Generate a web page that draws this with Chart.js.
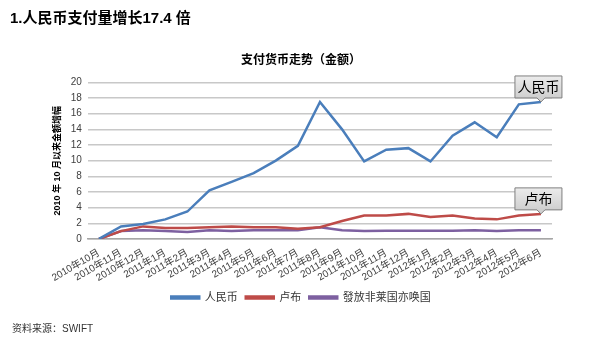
<!DOCTYPE html>
<html>
<head>
<meta charset="utf-8">
<script src="https://cdn.jsdelivr.net/npm/chart.js@4"></script>
<style>
  html, body { margin: 0; padding: 0; background: #fff; }
  #wrap { position: relative; width: 600px; height: 348px; }
  #mainTitle { position: absolute; left: 10px; top: 6px; font: bold 15px "Liberation Sans", "Noto Sans CJK SC", sans-serif; color: #000; }
  #source { position: absolute; left: 12px; top: 320px; font: 10px "Liberation Sans", "Noto Sans CJK SC", sans-serif; color: #333; }
  canvas { position: absolute; left: 0; top: 0; }
</style>
</head>
<body>
<div id="wrap">
  <canvas id="chart" width="600" height="348"></canvas>
  <div id="mainTitle">1.人民币支付量增长17.4 倍</div>
  <div id="source">资料来源：SWIFT</div>
</div>
<script>
// 月份
const months = [
  "2010年10月", "2010年11月", "2010年12月", "2011年1月", "2011年2月", "2011年3月", "2011年4月",
  "2011年5月", "2011年6月", "2011年7月", "2011年8月", "2011年9月", "2011年10月", "2011年11月",
  "2011年12月", "2012年1月", "2012年2月", "2012年3月", "2012年4月", "2012年5月", "2012年6月"
];
const rmb = [0, 1.6, 1.9, 2.5, 3.5, 6.2, 7.3, 8.4, 10.0, 11.9, 17.5, 14.0, 9.9, 11.4, 11.6, 9.9, 13.2, 14.9, 13.0, 17.2, 17.5];
const rouble = [0, 1.0, 1.6, 1.4, 1.4, 1.5, 1.6, 1.5, 1.5, 1.3, 1.5, 2.3, 3.0, 3.0, 3.2, 2.8, 3.0, 2.6, 2.5, 3.0, 3.2];
const other = [0, 1.0, 1.1, 1.0, 0.9, 1.1, 1.0, 1.1, 1.1, 1.1, 1.5, 1.1, 1.0, 1.05, 1.05, 1.05, 1.05, 1.1, 1.0, 1.1, 1.1];
const seriesNames = ["人民币", "卢布", "發放非莱国亦唤国"];
const yTicks = [0, 2, 4, 6, 8, 10, 12, 14, 16, 18, 20];

const FONT = '"Liberation Sans", "Noto Sans CJK SC", sans-serif';

// 末端标注框
const calloutPlugin = {
  id: "callouts",
  afterDatasetsDraw(chart) {
    const ctx = chart.ctx;
    [0, 1].forEach(i => {
      const meta = chart.getDatasetMeta(i);
      const pt = meta.data[meta.data.length - 1];
      const text = seriesNames[i];
      const w = 47, h = 22;
      const bx = pt.x - 26, by = pt.y - 4 - h;
      ctx.save();
      const g = ctx.createLinearGradient(0, by, 0, by + h);
      g.addColorStop(0, "#ececec");
      g.addColorStop(1, "#cfcfcf");
      ctx.fillStyle = g;
      ctx.strokeStyle = "#7f7f7f";
      ctx.lineWidth = 1;
      ctx.beginPath();
      ctx.moveTo(bx, by);
      ctx.lineTo(bx + w, by);
      ctx.lineTo(bx + w, by + h);
      ctx.lineTo(pt.x + 4, by + h);
      ctx.lineTo(pt.x, by + h + 4);
      ctx.lineTo(pt.x - 4, by + h);
      ctx.lineTo(bx, by + h);
      ctx.closePath();
      ctx.fill();
      ctx.stroke();
      ctx.fillStyle = "#000";
      ctx.font = "14px " + FONT;
      ctx.textAlign = "center";
      ctx.textBaseline = "middle";
      ctx.fillText(text, bx + w / 2, by + h / 2 + 1);
      ctx.restore();
    });
  }
};

new Chart(document.getElementById("chart"), {
  type: "line",
  data: {
    labels: months,
    datasets: [
      { label: seriesNames[0], data: rmb, borderColor: "#4a7ebb", backgroundColor: "#4a7ebb" },
      { label: seriesNames[1], data: rouble, borderColor: "#be4b48", backgroundColor: "#be4b48" },
      { label: seriesNames[2], data: other, borderColor: "#7d60a0", backgroundColor: "#7d60a0" }
    ]
  },
  options: {
    responsive: false,
    animation: false,
    elements: {
      line: { borderWidth: 2.5, tension: 0 },
      point: { radius: 0 }
    },
    layout: { padding: { top: 53, left: 50, right: 48, bottom: 35 } },
    plugins: {
      title: {
        display: true,
        text: "支付货币走势（金额）",
        color: "#000",
        font: { family: FONT, size: 12, weight: "bold" },
        padding: { top: 0, bottom: 15 }
      },
      legend: {
        position: "bottom",
        labels: {
          boxWidth: 28,
          boxHeight: 2,
          color: "#333",
          font: { family: FONT, size: 11 },
          padding: 8
        }
      },
      tooltip: { enabled: false }
    },
    scales: {
      x: {
        offset: true,
        grid: { display: false },
        border: { color: "#a6a6a6", width: 1.5 },
        ticks: {
          minRotation: 30,
          maxRotation: 30,
          autoSkip: false,
          color: "#404040",
          font: { family: FONT, size: 10 },
          padding: 0
        }
      },
      y: {
        min: 0,
        max: 20,
        afterBuildTicks: axis => { axis.ticks = yTicks.map(v => ({ value: v })); },
        grid: { color: "#c8c8c8", lineWidth: 1.5, drawTicks: false },
        border: { display: false },
        ticks: {
          color: "#404040",
          font: { family: FONT, size: 10 },
          padding: 6
        },
        title: {
          display: true,
          text: "2010 年 10 月以来金额增幅",
          color: "#000",
          font: { family: FONT, size: 9, weight: "bold" },
          padding: 2
        }
      }
    }
  },
  plugins: [calloutPlugin]
});
</script>
</body>
</html>
